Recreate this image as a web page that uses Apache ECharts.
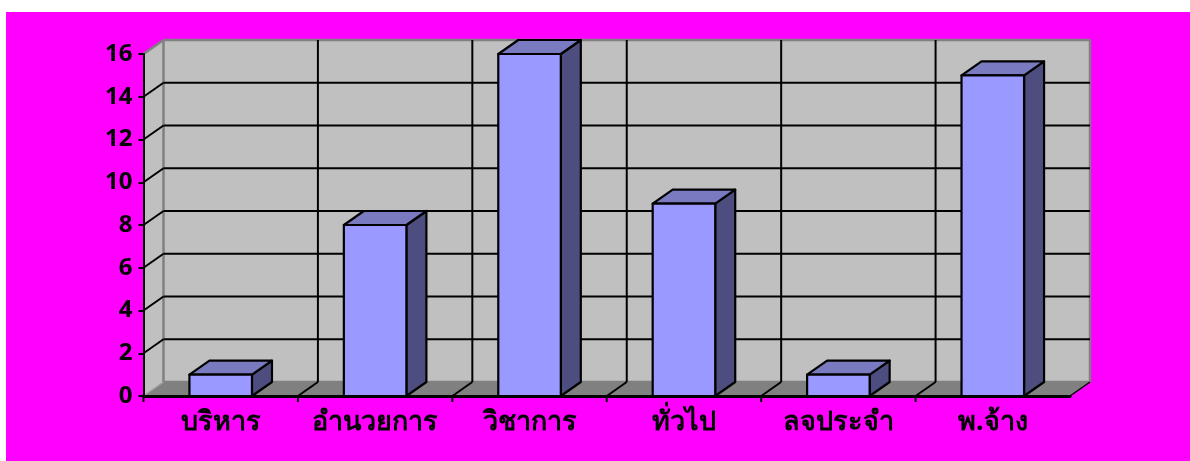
<!DOCTYPE html>
<html><head><meta charset="utf-8">
<style>html,body{margin:0;padding:0;background:#fff;overflow:hidden}
#c{position:absolute;left:6px;top:12px;width:1184px;height:449px}</style>
<script src="https://cdn.jsdelivr.net/npm/echarts@6/dist/echarts.min.js"></script>
</head><body><div id="c"></div>
<script>
const categories = ['บริหาร','อำนวยการ','วิชาการ','ทั่วไป','ลจประจำ','พ.จ้าง'];
const values = [1, 8, 16, 9, 1, 15];
const yTicks = [0,2,4,6,8,10,12,14,16];
const depthX = 20, depthY = -14, barRatio = 0.405;
const FONT = '"Noto Sans","DejaVu Sans",sans-serif';
const chart = echarts.init(document.getElementById('c'));
const poly = (points, fill, stroke, lw) => ({type:'polygon', shape:{points}, style:{fill, stroke:stroke||'none', lineWidth:lw||0, lineJoin:'round'}});
const line = (a, b, stroke, lw) => ({type:'line', shape:{x1:a[0],y1:a[1],x2:b[0],y2:b[1]}, style:{stroke, lineWidth:lw}});
const back = p => [p[0]+depthX, p[1]+depthY];
chart.setOption({
  animation:false,
  backgroundColor:'#ff00ff',
  grid:{left:137.5, top:42, width:926.5, height:342, containLabel:false},
  xAxis:{type:'category', data:categories, z:4,
    axisLine:{lineStyle:{color:'#000',width:3}},
    axisTick:{show:false},
    axisLabel:{color:'#000', fontFamily:FONT, fontWeight:'bold', fontSize:27, margin:13, interval:0},
    splitLine:{show:false}},
  yAxis:{type:'value', min:0, max:16, interval:2, z:4,
    axisLine:{show:true, onZero:false, lineStyle:{color:'#000',width:2}},
    axisTick:{show:true, length:5, lineStyle:{color:'#000',width:2}},
    axisLabel:{color:'#000', fontFamily:FONT, fontWeight:'bold', fontSize:24, margin:11, padding:[3,0,0,0]},
    splitLine:{show:false}},
  series:[
    {type:'custom', z:1, silent:true, data:[[0,0]], encode:{x:0,y:1},
     renderItem(params, api){
       const s = params.coordSys, l=s.x, r=s.x+s.width, t=s.y, b=s.y+s.height;
       const tl=[l,t], bl=[l,b], br=[r,b], tr=[r,t];
       return {type:'group', children:[
         poly([back(tl),back(tr),back(br),back(bl)],'#c0c0c0'),
         poly([tl,back(tl),back(bl),bl],'#c0c0c0'),
         poly([bl,back(bl),back(br),br],'#808080'),
         line(tl,back(tl),'#808080',2.5),
         line(back(tl),back(bl),'#808080',2.5),
         line(back(tl),back(tr),'#808080',2.5),
         line(back(tr),back(br),'#808080',2.5),
         line(back(bl),back(br),'#808080',2.5),
         line(bl,back(bl),'#a0a0a0',1.5),
         line(br,back(br),'#000',1.5)
       ]};
     }},
    {type:'custom', z:2, silent:true, data:yTicks.slice(1,-1).map(v=>[0,v]), encode:{x:0,y:1},
     renderItem(params, api){
       const s = params.coordSys, y = api.coord([0,api.value(1)])[1];
       const a=[s.x,y], c=[s.x+s.width,y];
       return {type:'group', children:[line(a,back(a),'#000',2), line(back(a),back(c),'#000',2)]};
     }},
    {type:'custom', z:2, silent:true, data:categories.map((c,i)=>[i,0]), encode:{x:0,y:1},
     renderItem(params, api){
       const s = params.coordSys, w = api.size([1,0])[0];
       const i = api.value(0), x = api.coord([i,0])[0]-w/2;
       const b=[x,s.y+s.height], top=[x,s.y];
       const tick = line(b,[x,b[1]+6],'#000',2);
       return {type:'group', children: i===0 ? [tick] : [tick, line(b,back(b),'#000',2), line(back(b),back(top),'#000',2)]};
     }},
    {type:'custom', z:3, silent:true, data:values.map((v,i)=>[i,v]), encode:{x:0,y:1},
     renderItem(params, api){
       const p = api.coord([api.value(0),api.value(1)]), z = api.coord([api.value(0),0]);
       const w = api.size([1,0])[0]*barRatio, L=p[0]-w/2, R=p[0]+w/2, T=p[1], B=z[1];
       const K='#000', lw=2.2;
       return {type:'group', children:[
         poly([[R,T],[R+depthX,T+depthY],[R+depthX,B+depthY],[R,B]],'#4d4d80',K,lw),
         poly([[L,T],[L+depthX,T+depthY],[R+depthX,T+depthY],[R,T]],'#7a7ac0',K,lw),
         poly([[L,T],[R,T],[R,B],[L,B]],'#9999ff',K,lw)
       ]};
     }}
  ]
});
</script></body></html>
